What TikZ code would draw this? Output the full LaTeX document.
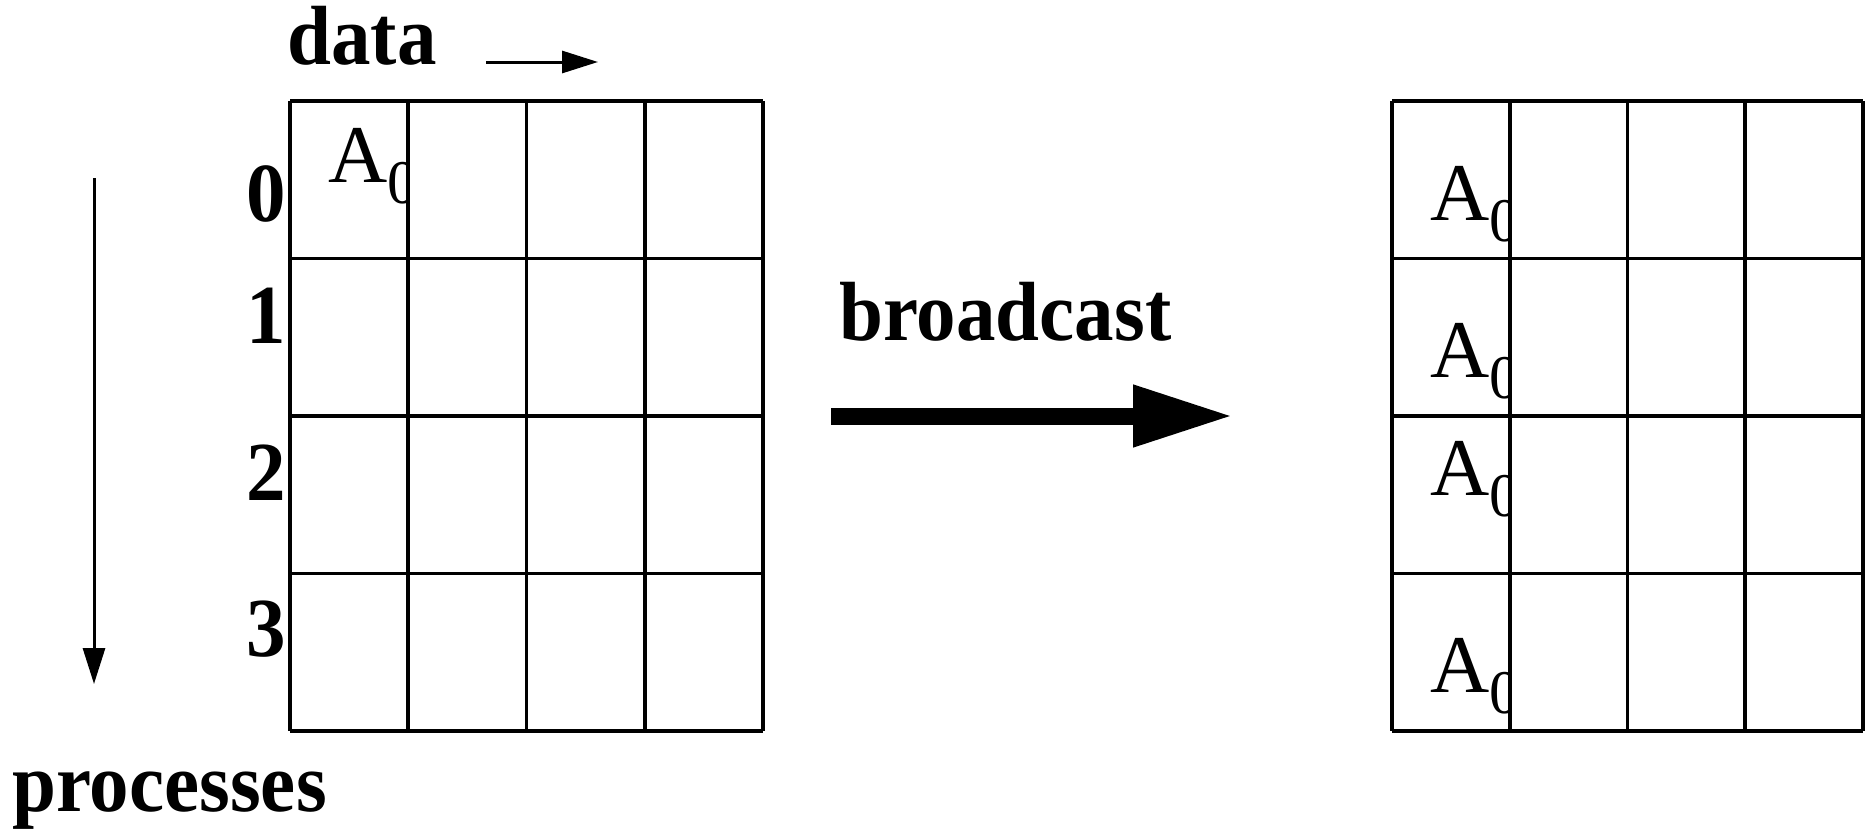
\documentclass[tikz,border=0pt]{standalone}
\usepackage{fontspec}
\setmainfont{Liberation Serif}
\newfontfamily\tagfont[FakeStretch=0.94]{Liberation Serif}
\usetikzlibrary{positioning,arrows.meta}

\begin{document}
\begin{tikzpicture}
  [
      x=0.5pt, y=-0.5pt,
      cell line/.style={line width=1.8pt},
      my tag/.style={font=\tagfont\bfseries\fontsize{42}{42}\selectfont, inner sep=0pt},
      my entry/.style={font=\fontsize{41}{41}\selectfont, inner sep=0pt, anchor=base west},
      thin arrow/.style={line width=1.5pt, -{Triangle[length=18pt, width=11pt]}},
      fat arrow/.style={line width=8.5pt, -{Triangle[length=50pt, width=29pt]}},
    ]
    \useasboundingbox (0,0) rectangle (1866,830);

    \node (d) [my tag, anchor=base west] at (287,64) {data};
    \coordinate (d1) at (486,62);
    \coordinate (d2) at (598,62);
    \draw [thin arrow] (d1) -- (d2);

    \coordinate (p1) at (94,178);
    \coordinate (p2) at (94,684);
    \draw [thin arrow] (p1) -- (p2);
    \node (p) [my tag, anchor=base west] at (12,811) {processes};

    \foreach \r/\y in {0/221, 1/343, 2/500, 3/656}
      \node (r\r) [my tag, anchor=base east] at (286,\y) {\r};

    \node (b) [my tag, anchor=base west] at (839,340) {broadcast};
    \coordinate (b1) at (831,416);
    \coordinate (b2) at (1233,416);
    \draw [fat arrow] (b1) -- (b2);

    \begin{scope}
      \clip (290,101) rectangle (409,731);
      \node (a0) [my entry] at (328,182) {A\raisebox{-10.5pt}{\fontsize{31}{31}\selectfont 0}};
    \end{scope}
    \begin{scope}
      \clip (1392,101) rectangle (1510,731);
      \foreach \r/\y in {0/220, 1/377, 2/495, 3/692}
        \node (c\r) [my entry] at (1430,\y) {A\raisebox{-10.5pt}{\fontsize{31}{31}\selectfont 0}};
    \end{scope}

    \foreach \i in {0,...,4} {
      \draw [cell line] (290+118.25*\i,101) -- (290+118.25*\i,731);
      \draw [cell line] (290,101+157.5*\i) -- (763,101+157.5*\i);
      \draw [cell line] (1392+117.75*\i,101) -- (1392+117.75*\i,731);
      \draw [cell line] (1392,101+157.5*\i) -- (1863,101+157.5*\i);
    }

  \end{tikzpicture}
\end{document}
